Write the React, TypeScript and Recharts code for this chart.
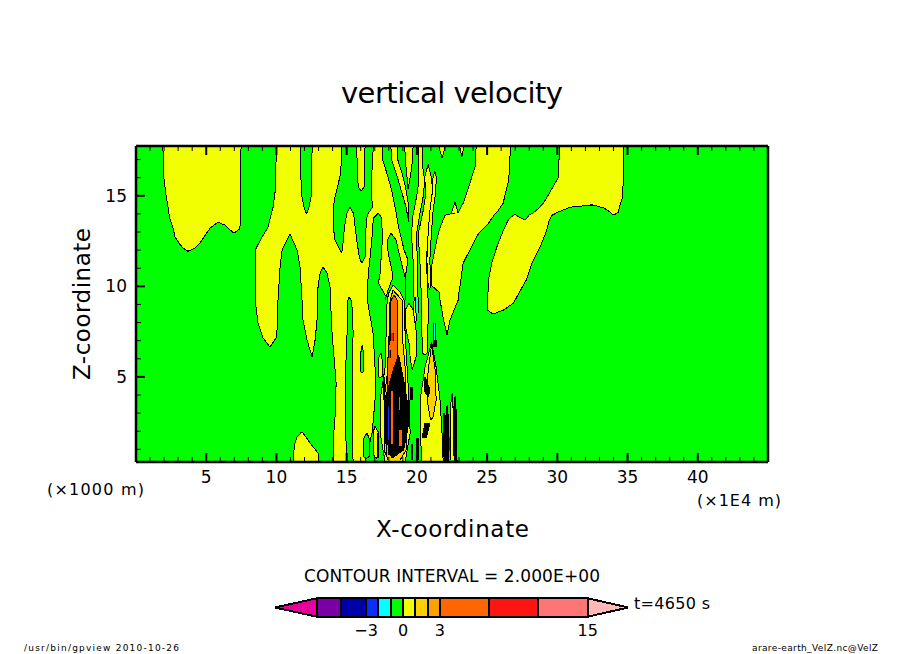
import { Area, ComposedChart, ReferenceLine, XAxis, YAxis } from "recharts";

// contour patches: [z (km), left x, right x] in axis units
type Row = [number, number, number];

const GREEN = "#00ff00";
const YELLOW = "#f2ff00";
const AMBER = "#ffd000";
const ORANGE = "#ff6600";
const DARK = "#000000";
const BLUE = "#0a2eff";
const CYAN = "#00ffff";
const RED = "#ff1414";

const background: Row[] = [[0.3, 0, 45], [17.75, 0, 45]];

const blobTop: Row[] = [[17.75, 1.92, 7.48], [16.26, 1.94, 7.45], [15.04, 2.14, 7.43], [13.82, 2.39, 7.41], [13.54, 2.49, 7.41]];
const blobLeft: Row[] = [[13.54, 2.49, 5.84], [13.21, 2.64, 5.27], [12.72, 2.78, 4.84], [12.39, 3.06, 4.56], [12.11, 3.35, 4.2], [11.94, 3.7, 3.7]];
const blobRight: Row[] = [[13.54, 5.84, 7.41], [13.38, 6.34, 7.41], [13.16, 6.62, 7.37], [12.94, 6.98, 6.98]];

const mainYellow: Row[] = [
  [17.75, 9.97, 17.52], [16.91, 9.97, 17.59], [16.03, 9.96, 17.95], [15.31, 9.92, 18.2], [14.37, 9.76, 18.45],
  [13.27, 9.4, 18.7], [12.72, 8.97, 18.87], [12.0, 8.48, 19.09], [11.45, 8.48, 19.37], [10.45, 8.48, 19.16], [9.24, 8.48, 19.16],
];
const lobeOne: Row[] = [[9.24, 8.48, 10.11], [7.97, 8.69, 10.1], [7.14, 9.05, 9.97], [6.65, 9.54, 9.54]];
const fingerOne: Row[] = [[12.88, 10.97, 10.97], [12.0, 10.4, 11.47], [11.06, 10.26, 11.68], [9.24, 10.11, 11.82]];
const lobeTwo: Row[] = [[9.24, 11.82, 12.96], [8.14, 11.89, 12.89], [7.03, 12.18, 12.75], [6.09, 12.54, 12.54]];
const fingerThree: Row[] = [[11.06, 13.32, 13.32], [10.73, 13.11, 13.6], [9.96, 12.96, 13.82], [9.24, 12.93, 13.85]];
const stripeThree: Row[] = [[9.24, 13.85, 15.03], [7.42, 13.96, 15.03], [4.66, 14.25, 14.89], [2.78, 14.17, 14.89], [1.35, 14.03, 14.96], [0.3, 14.03, 15.03]];
const smallFinger: Row[] = [[9.41, 15.17, 15.17], [9.24, 15.1, 15.31]];
const stripeFour: Row[] = [[9.24, 15.36, 16.47], [7.42, 15.46, 16.88], [5.54, 15.38, 17.02], [3.72, 15.38, 17.02], [1.9, 15.38, 16.81], [0.3, 15.46, 16.31]];
const footYellow: Row[] = [[1.97, 11.8, 11.8], [1.68, 11.47, 12.11], [1.35, 11.32, 12.39], [0.8, 11.22, 12.96], [0.3, 11.18, 12.98]];
const footGreen: Row[] = [[1.9, 16.45, 16.45], [1.6, 16.2, 16.6], [0.6, 16.2, 16.6], [0.5, 16.4, 16.4]];
const footPatch: Row[] = [[2.3, 17.0, 17.0], [1.9, 16.9, 17.3], [0.7, 16.9, 17.3], [0.5, 17.1, 17.1]];

const topGreen: Row[] = [[17.75, 14.65, 16.9], [16.25, 14.58, 16.79], [14.92, 14.17, 16.79], [14.37, 14.05, 16.83]];
const greenA: Row[] = [[14.37, 14.05, 15.24], [14.04, 14.05, 15.01], [13.27, 14.05, 14.84], [12.55, 14.17, 14.77], [11.83, 14.65, 14.65]];
const greenB: Row[] = [[14.37, 15.24, 16.83], [14.04, 15.48, 16.55], [13.77, 15.53, 16.43], [12.55, 15.72, 16.31], [11.61, 15.9, 16.31], [11.28, 16.07, 16.07]];
const yellowTip: Row[] = [[17.75, 15.72, 16.31], [16.25, 15.76, 16.26], [15.48, 15.83, 16.24], [15.26, 16.03, 16.03]];
const greenTop: Row[] = [[17.75, 11.68, 12.54], [16.25, 11.72, 12.51], [14.92, 11.82, 12.46], [14.37, 11.97, 12.32], [14.0, 12.14, 12.14]];
const greenH: Row[] = [[14.04, 17.26, 17.26], [13.77, 16.9, 17.5], [12.55, 16.79, 17.54], [10.73, 16.55, 17.38], [10.18, 16.5, 17.26], [9.52, 16.49, 17.74], [9.24, 16.47, 18.23]];
const greenJ: Row[] = [[12.94, 18.16, 18.16], [12.55, 17.91, 18.52], [11.83, 17.95, 18.73], [11.12, 18.16, 18.95], [10.51, 18.3, 19.16], [9.79, 17.95, 19.16], [9.24, 17.74, 19.16]];

const stripeS1: Row[] = [[17.75, 18.14, 18.59], [16.91, 18.23, 18.66], [16.2, 18.54, 18.97], [15.26, 18.9, 19.25], [14.37, 19.23, 19.42], [13.54, 19.42, 19.42]];
const stripeS2: Row[] = [[17.75, 19.14, 19.73], [16.91, 19.18, 19.68], [16.2, 19.28, 19.56], [15.37, 19.37, 19.37]];
const stripeS3: Row[] = [
  [17.75, 20.14, 20.44], [16.74, 20.09, 20.39], [15.81, 20.14, 20.56], [14.92, 19.97, 20.44], [13.98, 19.73, 20.21],
  [12.88, 19.61, 19.97], [11.45, 19.73, 20.03], [9.24, 19.8, 20.03], [8.14, 19.73, 19.97], [7.9, 19.85, 19.85],
];
const stripeS4: Row[] = [
  [16.74, 20.8, 20.8], [16.03, 20.56, 21.03], [15.09, 20.63, 21.15], [14.15, 20.44, 20.92], [12.88, 20.09, 20.8],
  [11.45, 20.21, 20.68], [9.24, 20.33, 20.8], [8.14, 20.33, 20.8], [6.32, 20.4, 20.74], [6.2, 20.58, 20.58],
];
const stripeS5: Row[] = [[16.36, 21.27, 21.27], [16.03, 21.15, 21.39], [15.09, 21.08, 21.32], [14.15, 20.92, 21.15], [12.88, 20.8, 21.03], [11.45, 20.71, 20.92], [10.07, 20.8, 20.99], [9.79, 20.9, 20.9]];
const topTickA: Row[] = [[17.75, 21.55, 22.01], [17.3, 21.72, 21.87], [17.08, 21.79, 21.79]];
const topTickB: Row[] = [[17.75, 23.04, 23.36], [17.13, 23.2, 23.2]];

const wedge: Row[] = [
  [17.75, 24.22, 26.64], [16.58, 24.14, 26.62], [15.75, 23.79, 26.5], [15.04, 23.5, 26.28], [14.59, 23.29, 26.14],
  [14.1, 22.97, 25.71], [13.93, 22.01, 25.5], [13.38, 21.72, 25.0], [12.88, 21.51, 24.36], [11.28, 21.08, 23.29],
  [10.07, 21.01, 23.08], [9.68, 21.58, 23.0], [9.24, 21.65, 22.94], [8.14, 21.9, 22.36], [7.31, 22.15, 22.15],
];
const wedgePeak: Row[] = [[14.65, 22.72, 22.72], [14.04, 22.44, 22.94]];

const plateau: Row[] = [[17.75, 30.15, 34.71], [16.03, 30.08, 34.69], [14.92, 29.27, 34.66], [14.54, 28.95, 34.47], [14.48, 28.85, 32.34], [14.37, 28.77, 30.91], [14.1, 28.35, 30.06], [13.93, 27.99, 29.63], [13.66, 27.71, 29.42]];
const plateauLobe: Row[] = [[14.54, 32.34, 34.47], [14.32, 33.33, 34.4], [14.1, 33.76, 34.35], [13.93, 34.01, 34.01]];
const plumeTip: Row[] = [[13.99, 26.99, 26.99], [13.82, 26.71, 27.28], [13.66, 26.5, 27.71]];
const plume: Row[] = [[13.66, 26.5, 29.42], [13.1, 26.16, 29.25], [12.17, 25.69, 28.77], [11.28, 25.33, 28.2], [10.34, 25.09, 27.78], [9.07, 25.04, 26.87], [8.69, 25.02, 26.16], [8.47, 25.43, 25.43]];

const coreYellow: Row[] = [[10.07, 18.3, 18.3], [9.68, 18.02, 18.8], [9.24, 17.88, 19.09], [7.42, 17.81, 19.16], [5.54, 17.74, 19.3], [3.72, 17.38, 19.44], [1.9, 17.38, 19.52], [0.3, 17.74, 19.16]];
const coreAmber: Row[] = [[9.79, 18.3, 18.3], [9.24, 18.09, 18.94], [7.42, 18.02, 18.94], [5.54, 17.95, 19.16], [3.72, 17.66, 19.23], [0.96, 17.66, 19.23], [0.41, 17.95, 18.8]];
const coreOrange: Row[] = [[9.52, 18.38, 18.38], [9.24, 18.16, 18.59], [7.42, 18.09, 18.59], [5.54, 17.88, 18.66], [4.27, 17.88, 18.45], [3.72, 18.1, 18.1]];
const coreBlack: Row[] = [[6.2, 18.7, 18.7], [5.54, 18.38, 18.87], [4.66, 18.05, 19.09], [3.72, 17.7, 19.3], [1.9, 17.66, 19.3], [0.96, 17.88, 19.05], [0.52, 18.23, 18.23]];
const streakOrangeA: Row[] = [[3.89, 18.7, 18.82], [3.17, 18.7, 18.82]];
const streakOrangeB: Row[] = [[4.2, 18.1, 18.32], [1.3, 18.1, 18.32]];
const streakOrangeC: Row[] = [[2.07, 18.72, 18.95], [1.2, 18.72, 18.95]];
const streakBlueA: Row[] = [[3.33, 17.93, 18.04], [1.51, 17.93, 18.04]];
const streakBlueB: Row[] = [[3.0, 18.45, 18.52], [1.9, 18.45, 18.52]];
const streakCyan: Row[] = [[1.24, 17.82, 18.0], [0.69, 17.82, 18.0]];
const streakRedA: Row[] = [[7.42, 18.15, 18.3], [6.98, 18.15, 18.3]];
const streakRedB: Row[] = [[6.48, 17.98, 18.13], [6.04, 17.98, 18.13]];
const sliverLeftA: Row[] = [[8.7, 18.05, 18.15], [7.6, 18.05, 18.15]];
const sliverLeftB: Row[] = [[4.99, 17.6, 17.7], [3.72, 17.6, 17.7]];
const sliverRightA: Row[] = [[3.72, 19.23, 19.44], [2.24, 19.23, 19.44]];
const sliverRightB: Row[] = [[4.44, 19.58, 19.72], [3.72, 19.58, 19.72]];
const sliverFootA: Row[] = [[1.62, 19.94, 20.08], [0.41, 19.94, 20.08]];
const sliverFootB: Row[] = [[1.3, 19.62, 19.7], [0.41, 19.62, 19.7]];
const sliverFootC: Row[] = [[1.9, 17.2, 17.3], [0.5, 17.2, 17.3]];

const stripeM: Row[] = [[9.07, 19.44, 19.44], [8.69, 19.16, 19.73], [7.58, 19.23, 19.94], [6.87, 19.44, 20.0], [6.09, 19.52, 19.94], [5.38, 19.66, 19.66]];
const cyanUpper: Row[] = [[9.4, 19.92, 20.08], [8.53, 19.92, 20.08]];
const cyanLower: Row[] = [[7.97, 21.15, 21.3], [6.87, 21.15, 21.3]];
const blackLower: Row[] = [[7.03, 21.15, 21.37], [6.65, 21.15, 21.37]];
const greenOval: Row[] = [[6.76, 16.1, 16.1], [6.3, 16.0, 16.2], [5.3, 16.0, 16.2], [5.21, 16.1, 16.1]];
const yellowSlit: Row[] = [[6.32, 17.45, 17.45], [6.0, 17.24, 17.52], [5.0, 17.24, 17.52], [4.99, 17.38, 17.38]];

const rightYellow: Row[] = [[6.92, 21.05, 21.05], [5.54, 20.58, 21.37], [3.72, 20.23, 21.65], [1.9, 20.23, 21.79], [0.3, 20.37, 21.87]];
const rightAmber: Row[] = [[6.76, 21.05, 21.05], [5.38, 20.8, 21.3], [3.72, 20.73, 21.37], [2.78, 20.94, 21.15], [2.62, 21.01, 21.01]];
const rightBlackA: Row[] = [[4.99, 20.51, 20.58], [4.27, 20.51, 20.94], [3.89, 20.8, 20.8]];
const rightBlackB: Row[] = [[2.45, 20.58, 20.94], [1.62, 20.37, 20.66]];
const edgeBlackA: Row[] = [[3.44, 22.15, 22.15], [2.62, 22.04, 22.26], [0.3, 21.97, 22.22]];
const edgeBlackC: Row[] = [[3.0, 21.9, 21.98], [0.6, 21.9, 21.98]];
const edgeYellow: Row[] = [[4.11, 22.51, 22.51], [3.17, 22.36, 22.58], [0.41, 22.36, 22.65]];
const edgeBlackB: Row[] = [[3.94, 22.72, 22.72], [3.17, 22.61, 22.79], [0.3, 22.65, 22.86]];
const edgeBlue: Row[] = [[1.7, 22.28, 22.36], [0.9, 22.28, 22.36]];

// paint order, back to front
const layers: [Row[], string][] = [
  [blobTop, YELLOW], [blobLeft, YELLOW], [blobRight, YELLOW],
  [mainYellow, YELLOW], [lobeOne, YELLOW], [lobeTwo, YELLOW], [stripeThree, YELLOW], [stripeFour, YELLOW], [footYellow, YELLOW], [footGreen, GREEN], [footPatch, YELLOW],
  [fingerOne, GREEN], [fingerThree, GREEN], [smallFinger, GREEN], [greenTop, GREEN],
  [topGreen, GREEN], [greenA, GREEN], [greenB, GREEN], [yellowTip, YELLOW], [greenH, GREEN], [greenJ, GREEN],
  [stripeS1, YELLOW], [stripeS2, YELLOW], [stripeS3, YELLOW], [stripeS4, YELLOW], [stripeS5, YELLOW], [topTickA, YELLOW], [topTickB, YELLOW],
  [wedge, YELLOW], [wedgePeak, YELLOW], [plateau, YELLOW], [plateauLobe, YELLOW], [plumeTip, YELLOW], [plume, YELLOW],
  [greenOval, GREEN], [yellowSlit, YELLOW],
  [coreYellow, YELLOW], [coreAmber, AMBER], [coreOrange, ORANGE], [coreBlack, DARK],
  [streakOrangeA, ORANGE], [streakOrangeB, ORANGE], [streakOrangeC, ORANGE], [streakBlueA, BLUE], [streakBlueB, BLUE], [streakCyan, CYAN], [streakRedA, RED], [streakRedB, RED],
  [sliverLeftA, DARK], [sliverLeftB, DARK], [sliverRightA, DARK], [sliverRightB, DARK], [sliverFootA, DARK], [sliverFootB, DARK], [sliverFootC, DARK],
  [stripeM, YELLOW], [cyanUpper, CYAN], [cyanLower, CYAN], [blackLower, DARK],
  [rightYellow, YELLOW], [rightAmber, AMBER], [rightBlackA, DARK], [rightBlackB, DARK],
  [edgeBlackC, DARK], [edgeBlackA, DARK], [edgeYellow, YELLOW], [edgeBlackB, DARK], [edgeBlue, BLUE],
];

const xTicks = [1, 2, 3, 4, 5, 6, 7, 8, 9, 10, 11, 12, 13, 14, 15, 16, 17, 18, 19, 20, 21, 22, 23, 24, 25, 26, 27, 28, 29, 30, 31, 32, 33, 34, 35, 36, 37, 38, 39, 40, 41, 42, 43, 44];
const zTicks = [1, 2, 3, 4, 5, 6, 7, 8, 9, 10, 11, 12, 13, 14, 15, 16, 17];

const barLevels = [-10.4, -7, -5, -3, -2, -1, 0, 1, 2, 3, 7, 11, 15, 18.3];
const barColors = ["#e6009c", "#7a00a6", "#0000a8", "#0a2eff", "#00ffff", "#00ff00", "#f2ff00", "#ffd000", "#ffa000", "#ff6600", "#ff1414", "#ff7575", "#ffb8b8"];
const barTicks = [-3, 0, 3, 15];

const FONT = "'DejaVu Sans', sans-serif";

const toSeries = (rows: Row[]) => rows.map(([z, a, b]) => ({ z, range: [a, b] }));

const barSeries = barColors.map((_, i) => [
  { v: barLevels[i], band: i === 0 ? [0.5, 0.5] : [0, 1] },
  { v: barLevels[i + 1], band: i === barColors.length - 1 ? [0.5, 0.5] : [0, 1] },
]);

function BottomTick({ x, y, payload }: any) {
  const major = payload.value % 5 === 0;
  return (
    <g>
      <line x1={x} x2={x} y1={y} y2={y - (major ? 9 : 5)} stroke="#000" strokeWidth={major ? 2 : 1} />
      {major && (
        <text x={x} y={y + 21} textAnchor="middle" fontSize={17} fontFamily={FONT} fill="#000">
          {payload.value}
        </text>
      )}
    </g>
  );
}

function TopTick({ x, y, payload }: any) {
  const major = payload.value % 5 === 0;
  return <line x1={x} x2={x} y1={y} y2={y + (major ? 9 : 5)} stroke="#000" strokeWidth={major ? 2 : 1} />;
}

function LeftTick({ x, y, payload }: any) {
  const major = payload.value % 5 === 0;
  return (
    <g>
      <line x1={x} x2={x + (major ? 9 : 5)} y1={y} y2={y} stroke="#000" strokeWidth={major ? 2 : 1} />
      {major && (
        <text x={x - 9} y={y + 6} textAnchor="end" fontSize={17} fontFamily={FONT} fill="#000">
          {payload.value}
        </text>
      )}
    </g>
  );
}

function RightTick({ x, y, payload }: any) {
  const major = payload.value % 5 === 0;
  return <line x1={x} x2={x - (major ? 9 : 5)} y1={y} y2={y} stroke="#000" strokeWidth={major ? 2 : 1} />;
}

export default function App() {
  return (
    <div style={{ position: "absolute", left: 0, top: 0, width: 904, height: 654, background: "#fff", overflow: "hidden" }}>
      <style>{`.recharts-area path, .recharts-reference-line line { shape-rendering: crispEdges; }`}</style>

      <div style={{ position: "absolute", left: 0, top: 0 }}>
        <ComposedChart
          layout="vertical"
          width={904}
          height={654}
          margin={{ left: 96, right: 126, top: 136, bottom: 162 }}
        >
          <Area
            data={toSeries(background)}
            dataKey="range"
            xAxisId="x"
            yAxisId="z"
            stroke="none"
            fill={GREEN}
            fillOpacity={1}
            dot={false}
            activeDot={false}
            isAnimationActive={false}
          />
          {layers.map(([rows, fill], i) => (
            <Area
              key={i}
              data={toSeries(rows)}
              dataKey="range"
              xAxisId="x"
              yAxisId="z"
              stroke="#000"
              strokeWidth={1}
              fill={fill}
              fillOpacity={1}
              dot={false}
              activeDot={false}
              isAnimationActive={false}
            />
          ))}
          <XAxis xAxisId="x" type="number" domain={[0, 45]} allowDataOverflow ticks={xTicks} interval={0} height={30} tickSize={0} tickMargin={0} tickLine={false} axisLine={{ stroke: "#000", strokeWidth: 2.5 }} tick={<BottomTick />} />
          <XAxis xAxisId="xTop" orientation="top" type="number" domain={[0, 45]} allowDataOverflow ticks={xTicks} interval={0} height={10} tickSize={0} tickMargin={0} tickLine={false} axisLine={{ stroke: "#000", strokeWidth: 2.5 }} tick={<TopTick />} />
          <YAxis yAxisId="z" dataKey="z" type="number" reversed domain={[0.3, 17.75]} allowDataOverflow ticks={zTicks} interval={0} width={40} tickSize={0} tickMargin={0} tickLine={false} axisLine={{ stroke: "#000", strokeWidth: 2.5 }} tick={<LeftTick />} />
          <YAxis yAxisId="zRight" orientation="right" type="number" reversed domain={[0.3, 17.75]} allowDataOverflow ticks={zTicks} interval={0} width={10} tickSize={0} tickMargin={0} tickLine={false} axisLine={{ stroke: "#000", strokeWidth: 2.5 }} tick={<RightTick />} />
        </ComposedChart>
      </div>

      <div style={{ position: "absolute", left: 0, top: 0 }}>
        <ComposedChart width={904} height={654} margin={{ left: 275, right: 275.7, top: 598.3, bottom: 7.3 }}>
          {barSeries.map((rows, i) => (
            <Area
              key={i}
              data={rows}
              dataKey="band"
              stroke="#000"
              strokeWidth={2}
              fill={barColors[i]}
              fillOpacity={1}
              dot={false}
              activeDot={false}
              isAnimationActive={false}
            />
          ))}
          {barLevels.slice(1, -1).map((level) => (
            <ReferenceLine key={level} x={level} stroke="#000" strokeWidth={2} />
          ))}
          <XAxis dataKey="v" type="number" domain={[-10.4, 18.3]} allowDataOverflow ticks={barTicks} interval={0} height={30} tickLine={false} axisLine={false} tickMargin={2} tick={{ fill: "#000", fontSize: 16, fontFamily: FONT }} tickFormatter={(v: number) => (v < 0 ? `\u2212${-v}` : `${v}`)} />
          <YAxis hide type="number" domain={[0, 1]} />
        </ComposedChart>
      </div>

      <svg width={904} height={654} style={{ position: "absolute", left: 0, top: 0, pointerEvents: "none", whiteSpace: "pre" }} fontFamily={FONT} fill="#000">
        <text x={341} y={103} fontSize={29} textLength={222} lengthAdjust="spacing">vertical velocity</text>
        <text x={376} y={537} fontSize={23} textLength={153} lengthAdjust="spacing">X-coordinate</text>
        <text x={90} y={380} fontSize={23} textLength={152} lengthAdjust="spacing" transform="rotate(-90 90 380)">Z-coordinate</text>
        <text x={47} y={495} fontSize={16} textLength={97} lengthAdjust="spacing">(×1000 m)</text>
        <text x={697} y={506} fontSize={16} textLength={84} lengthAdjust="spacing">(×1E4 m)</text>
        <text x={304} y={582} fontSize={17} textLength={296} lengthAdjust="spacing">CONTOUR INTERVAL = 2.000E+00</text>
        <text x={634} y={609} fontSize={16} textLength={76} lengthAdjust="spacing">t=4650 s</text>
        <text x={24} y={651} fontSize={9} textLength={155} lengthAdjust="spacing">/usr/bin/gpview  2010-10-26</text>
        <text x={752} y={651} fontSize={9} textLength={126} lengthAdjust="spacing">arare-earth_VelZ.nc@VelZ</text>
      </svg>
    </div>
  );
}
